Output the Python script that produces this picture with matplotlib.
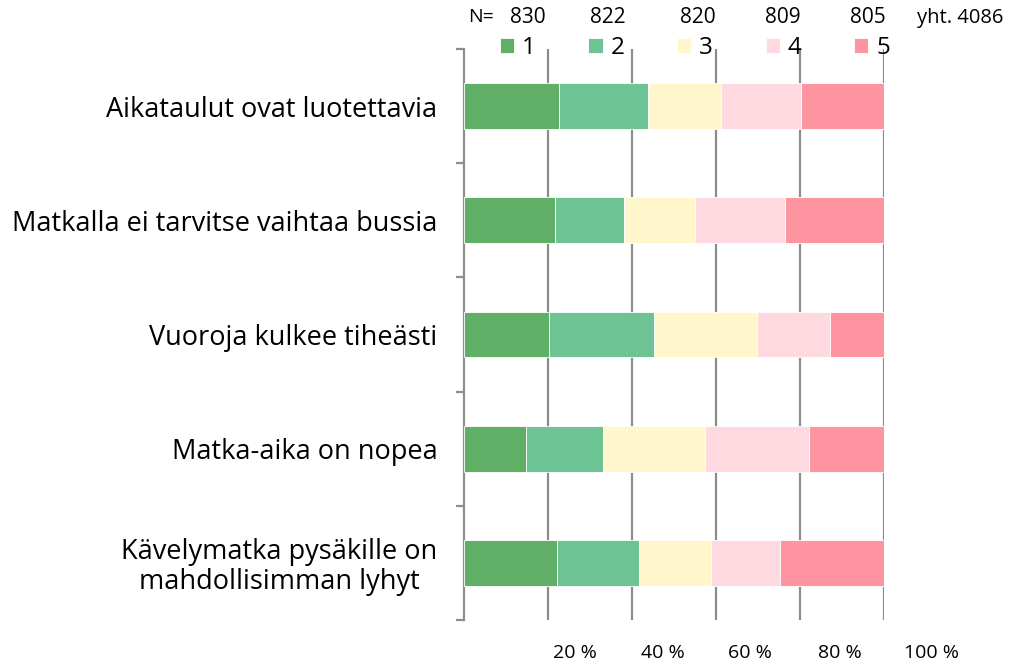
import numpy as np
import matplotlib
matplotlib.use('Agg')
from matplotlib import pyplot as plt
from matplotlib.transforms import blended_transform_factory

plt.rcParams['font.family'] = ['Open Sans', 'DejaVu Sans']

categories = ['Aikataulut ovat luotettavia',
              'Matkalla ei tarvitse vaihtaa bussia',
              'Vuoroja kulkee tiheästi',
              'Matka-aika on nopea',
              'Kävelymatka pysäkille on\nmahdollisimman lyhyt']
answers = ['1', '2', '3', '4', '5']
# percentage shares per answer (rows = categories)
share_1 = [22.5, 21.7, 20.2, 14.8, 22.1]
share_2 = [21.2, 16.4, 25.0, 18.4, 19.5]
share_3 = [17.4, 16.8, 24.6, 24.1, 17.1]
share_4 = [19.1, 21.6, 17.3, 24.8, 16.5]
share_5 = [19.8, 23.5, 12.9, 17.9, 24.8]
n_values = [830, 822, 820, 809, 805]
pct_ticks = [20, 40, 60, 80, 100]
colors = ['#61ae67', '#6dc394', '#fff6cb', '#fedae0', '#fe94a0']

shares = [share_1, share_2, share_3, share_4, share_5]

fig = plt.figure(figsize = (10.21, 6.62), dpi = 100)
ax = fig.add_axes([464 / 1021, 1 - 620 / 662, 420 / 1021, 571 / 662])

y = np.arange(len(categories))
left = np.zeros(len(categories))
for lab, vals, c in zip(answers, shares, colors):
    ax.barh(y, vals, 0.4, left = left, color = c, label = lab,
            edgecolor = 'white', linewidth = 0.6, zorder = 3)
    left += np.array(vals)

ax.set_xlim(0, 100)
ax.set_ylim(len(categories) - 0.5, -0.5)

# gridlines
for t in pct_ticks:
    ax.axvline(t, color = '#8c8c8c', lw = 1.6, zorder = 1)

for s in ['top', 'right', 'bottom']:
    ax.spines[s].set_visible(False)
ax.spines['left'].set_color('#8c8c8c')
ax.spines['left'].set_linewidth(1.6)

ax.set_xticks([])
ax.set_yticks(y, categories, fontsize = 19.5)
ax.tick_params(axis = 'y', which = 'major', length = 0, pad = 19)
ax.set_yticks(np.arange(len(categories) + 1) - 0.5, minor = True)
ax.tick_params(axis = 'y', which = 'minor', length = 6, width = 1.6, color = '#8c8c8c')
for t in ax.get_yticklabels():
    t.set_multialignment('center')
    t.set_linespacing(1.08)

# percent labels below, shifted right like the original
tr = blended_transform_factory(ax.transData, ax.transAxes)
label_x = [26.4, 47.4, 68.1, 89.5, 111.4]
for t, lx in zip(pct_ticks, label_x):
    ax.text(lx, -0.058, f'{t} %', transform = tr, ha = 'center', va = 'center',
            fontsize = 14)

# N row
n_x = [15.1, 34.2, 55.6, 75.8, 96.1]
fig.text(481 / 1021, 1 - 17.5 / 662, 'N=', ha = 'center', va = 'center', fontsize = 14)
for n, nx in zip(n_values, n_x):
    ax.text(nx, 1.0 + 31.5 / 571, str(n), transform = tr, ha = 'center', va = 'center',
            fontsize = 15)
fig.text(960 / 1021, 1 - 17.5 / 662, f'yht. {sum(n_values)}', ha = 'center', va = 'center',
         fontsize = 14.5)

ax.legend(loc = 'center left', bbox_to_anchor = (36 / 420, 1.0 + 1 / 571), ncols = 5,
          frameon = False, fontsize = 17.5, handlelength = 0.58, handleheight = 0.58,
          handletextpad = 0.33, columnspacing = 2.16, borderaxespad = 0, borderpad = 0)

fig.savefig('out.png', dpi = 100)
